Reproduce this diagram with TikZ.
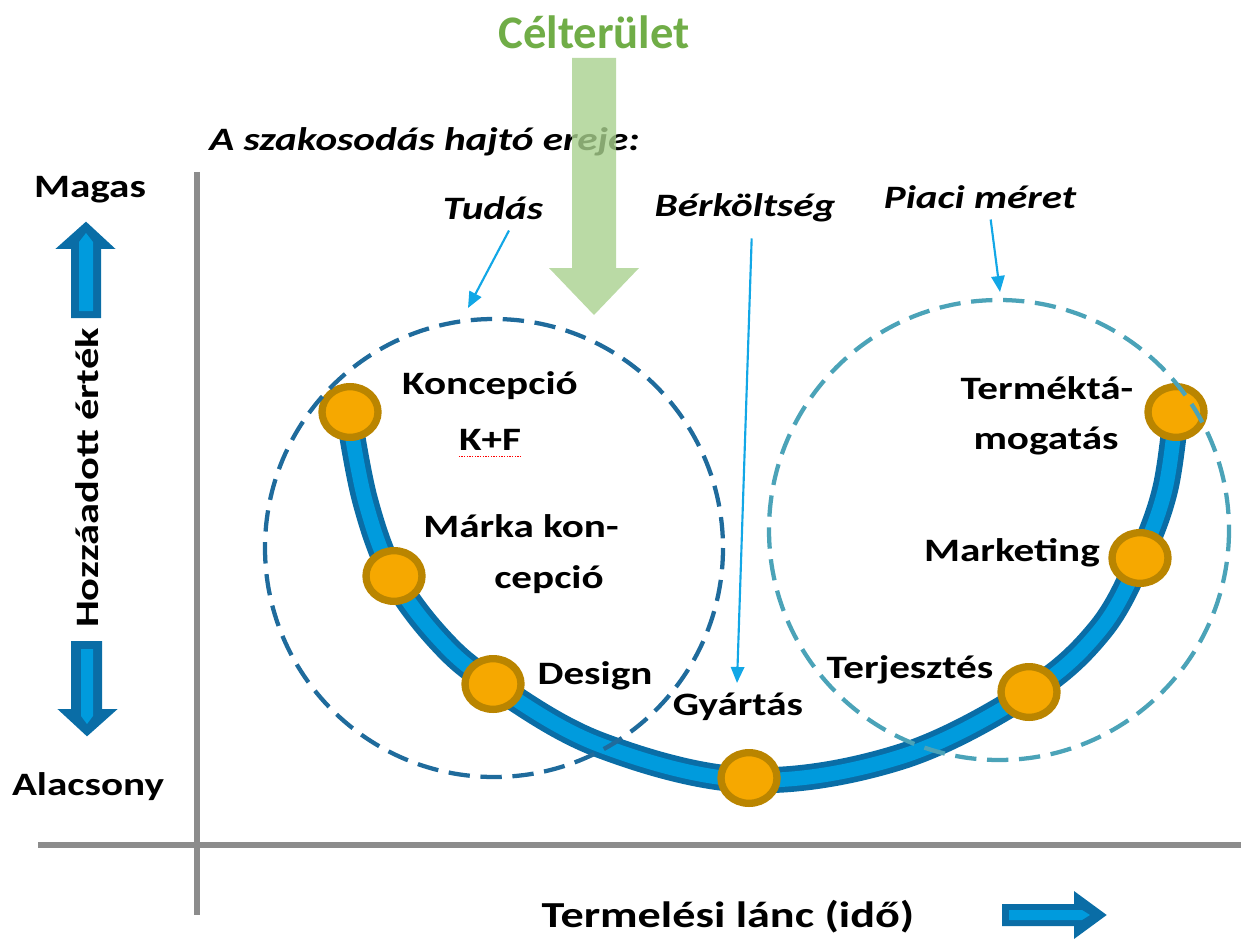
\documentclass[tikz,border=0pt]{standalone}
\usepackage{graphicx}
\usepackage{fontspec}
\setmainfont{Carlito}
\usetikzlibrary{arrows.meta,positioning,shapes.geometric}
\definecolor{axisgray}{HTML}{8C8C8C}
\definecolor{leafgreen}{HTML}{70AD47}
\definecolor{palegreen}{HTML}{A9D18E}
\definecolor{chainblue}{HTML}{009BDD}
\definecolor{chaindark}{HTML}{0A6DA6}
\definecolor{skyblue}{HTML}{12A7E6}
\definecolor{ringblue}{HTML}{1F6B9C}
\definecolor{ringteal}{HTML}{4BA3B8}
\definecolor{dotfill}{HTML}{F6A800}
\definecolor{dotedge}{HTML}{BA8500}
\newcommand{\wide}[1]{\scalebox{1.26}[1]{#1}}

\begin{document}
\begin{tikzpicture}[x=0.75pt,y=-0.75pt,
 lbl/.style={font=\fontsize{24.5}{29}\selectfont\bfseries,inner sep=0pt},
 ilbl/.style={font=\fontsize{24.5}{29}\selectfont\bfseries\itshape,inner sep=0pt},
 axis/.style={draw=axisgray,line width=3.8},
 ring/.style={line width=3.2,dash pattern=on 16pt off 8pt},
 dot/.style={ellipse,draw=dotedge,fill=dotfill,line width=5.5,minimum width=42,minimum height=38},
 fat/.style={draw=chaindark,fill=chaindark,line width=1.5,line join=miter},
 pointer/.style={draw=skyblue,line width=1.6,-{Triangle[length=12pt,width=10pt]}}]
 \useasboundingbox (0,0) rectangle (1241,941);
 % axes
 \coordinate (ytop) at (197,172);
 \coordinate (ybot) at (197,915);
 \coordinate (xleft) at (38,845);
 \coordinate (xright) at (1241,845);
 \draw[axis] (ytop) -- (ybot);
 \draw[axis] (xleft) -- (xright);
 % axis texts
 \node[lbl] (magas) at (90,190) {\wide{Magas}};
 \node[lbl] (alacsony) at (88,787) {\wide{Alacsony}};
 \node[lbl,rotate=90] (hozza) at (87,478) {\scalebox{1.3}[1]{Hozzáadott érték}};
 \node[lbl,font=\fontsize{27.5}{32}\selectfont\bfseries] (lanc) at (728,917) {\wide{Termelési lánc (idő)}};
 % fat arrows
 \draw[fat] (72,317) -- (72,248) -- (58,248) -- (86,223) -- (113,248) -- (100,248) -- (100,317) -- cycle;
 \fill[chainblue] (79,311) -- (79,242) -- (86,233) -- (93,242) -- (93,311) -- cycle;
 \draw[fat] (72,642) -- (72,710) -- (60,710) -- (87,735) -- (115,710) -- (101,710) -- (101,642) -- cycle;
 \fill[chainblue] (81,649) -- (81,716) -- (87,724) -- (93,716) -- (93,649) -- cycle;
 \draw[fat] (1003,905) -- (1075,905) -- (1075,893) -- (1105,915) -- (1075,937) -- (1075,925) -- (1003,925) -- cycle;
 \fill[chainblue] (1009,910) -- (1082,910) -- (1090,915) -- (1082,920) -- (1009,920) -- cycle;
 % value chain
 \draw[chaindark,line width=19.5,line cap=round] plot[smooth,tension=0.6] coordinates
  {(348,410) (365,500) (393,576) (440,640) (493,684) (600,745) (748,780) (900,757) (1030,692) (1100,630) (1140,558) (1165,490) (1176,412)};
 \draw[chainblue,line width=11] plot[smooth,tension=0.6] coordinates
  {(348,410) (365,500) (393,576) (440,640) (493,684) (600,745) (748,780) (900,757) (1030,692) (1100,630) (1140,558) (1165,490) (1176,412)};
 \node[dot] (d1) at (350,412) {};
 \node[dot] (d2) at (394,576) {};
 \node[dot] (d3) at (493,684) {};
 \node[dot] (d4) at (749,778) {};
 \node[dot] (d5) at (1029,692) {};
 \node[dot] (d6) at (1140,558) {};
 \node[dot] (d7) at (1176,412) {};
 % stage labels
 \node[lbl] (konc) at (490,386) {\wide{Koncepció}};
 \node[lbl] (kf) at (490,440) {\wide{K+F}};
 \draw[red,line width=0.6,dash pattern=on 1pt off 1pt] ([yshift=-4]kf.south west) -- ([yshift=-4]kf.south east);
 \node[lbl] (marka) at (521,526) {\wide{Márka kon-}};
 \node[lbl] (cepcio) at (549,580) {\wide{cepció}};
 \node[lbl] (design) at (595,676) {\wide{Design}};
 \node[lbl] (gyartas) at (738,707) {\wide{Gyártás}};
 \node[lbl] (termek) at (1047,388) {\wide{Terméktá-}};
 \node[lbl] (mogatas) at (1046,441) {\wide{mogatás}};
 \node[lbl] (marketing) at (1012,553) {\wide{Marketing}};
 \node[lbl] (terj) at (910,670) {\wide{Terjesztés}};
 % driving forces
 \node[ilbl,anchor=west] (drive) at (209,142) {\wide{A szakosodás hajtó ereje:}};
 \node[ilbl] (tudas) at (493,208) {\wide{Tudás}};
 \node[ilbl] (berk) at (745,208) {\wide{Bérköltség}};
 \node[ilbl] (piaci) at (980,197) {\wide{Piaci méret}};
 \coordinate (tudtip) at (468,308);
 \coordinate (berktip) at (737,683);
 \coordinate (piacitip) at (1000,292);
 \draw[pointer] ([xshift=12,yshift=-8]tudas.south) -- (tudtip);
 \draw[pointer] ([xshift=5,yshift=-12]berk.south) -- (berktip);
 \draw[pointer] ([xshift=8,yshift=-8]piaci.south) -- (piacitip);
 % clusters
 \draw[ring,ringblue] (494,548) circle (229);
 \draw[ring,ringteal] (999,530) circle (230);
 % target area
 \node[font=\fontsize{35}{40}\selectfont\bfseries,text=leafgreen,inner sep=0pt] (celt) at (594,32) {Célterület};
 \fill[palegreen,fill opacity=0.8] (572,58) -- (616,58) -- (616,268) -- (639,268) -- (594,315) -- (549,268) -- (572,268) -- cycle;
\end{tikzpicture}
\end{document}
